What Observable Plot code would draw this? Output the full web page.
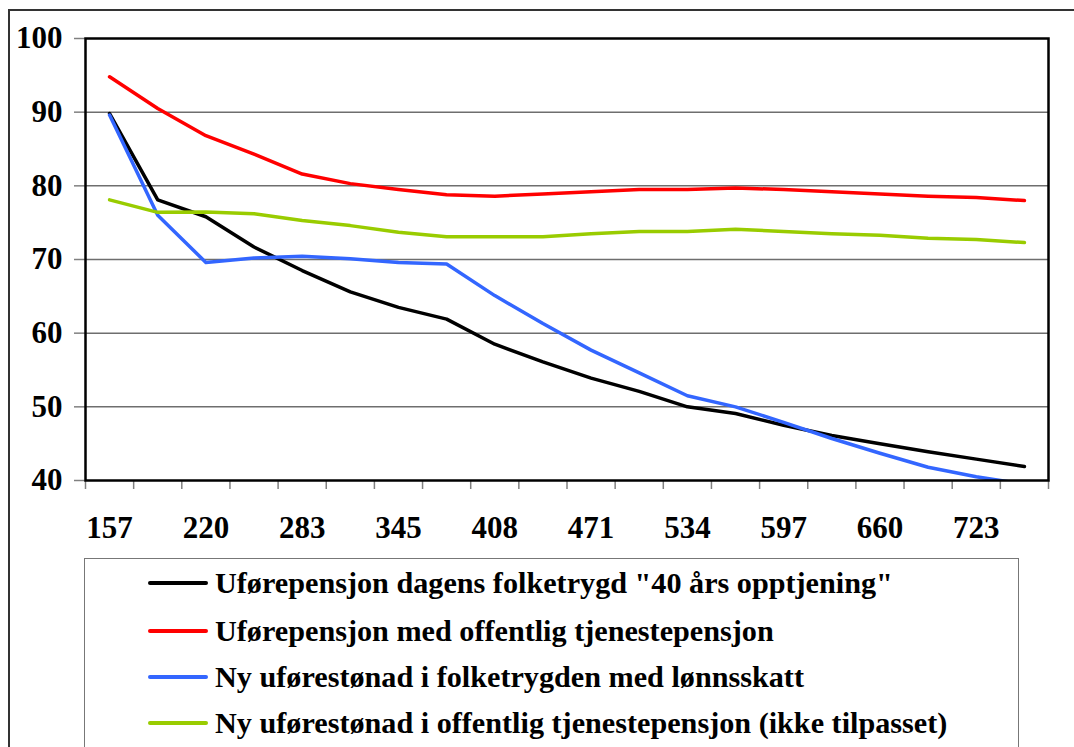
<!DOCTYPE html>
<html>
<head>
<meta charset="utf-8">
<script src="https://cdn.jsdelivr.net/npm/d3@7"></script>
<script src="https://cdn.jsdelivr.net/npm/@observablehq/plot@0.6"></script>
<style>
  html, body { margin: 0; padding: 0; background: #fff; width: 1074px; height: 747px; overflow: hidden; }
  #outer { position: absolute; left: 8px; top: 9px; width: 1200px; height: 1000px; border-left: 2px solid #333; border-top: 2px solid #333; }
  #chart { position: absolute; left: 0; top: 0; }
  #legend { position: absolute; left: 84px; top: 558px; width: 933px; height: 300px; border: 1px solid #777; background: #fff;
            font-family: "Liberation Serif", "Times New Roman", serif; font-weight: bold; font-size: 30.2px; color: #000; }
  .item { position: absolute; left: 63px; height: 40px; display: flex; align-items: center; white-space: nowrap; }
  .swatch { width: 60px; height: 4px; border-radius: 2px; margin-right: 7px; }
</style>
</head>
<body>
<div id="outer"></div>
<div id="chart"></div>
<div id="legend"></div>
<script>
const categories = ["157","188","220","251","283","314","345","377","408","440","471","502","534","565","597","628","660","691","723","754"];
const seriesNames = [
  "Uførepensjon dagens folketrygd \"40 års opptjening\"",
  "Uførepensjon med offentlig tjenestepensjon",
  "Ny uførestønad i folketrygden med lønnsskatt",
  "Ny uførestønad i offentlig tjenestepensjon (ikke tilpasset)"
];
const seriesColors = ["#000000", "#FF0000", "#3366FF", "#99CC00"];
const blackValues = [89.8, 78.1, 75.8, 71.7, 68.5, 65.6, 63.5, 61.9, 58.5, 56.1, 53.9, 52.1, 50.0, 49.1, 47.5, 46.1, 45.0, 43.9, 42.9, 41.9];
const redValues   = [94.8, 90.5, 86.8, 84.3, 81.6, 80.3, 79.5, 78.8, 78.6, 78.9, 79.2, 79.5, 79.5, 79.7, 79.5, 79.2, 78.9, 78.6, 78.4, 78.0];
const blueValues  = [89.6, 76.0, 69.6, 70.2, 70.45, 70.1, 69.6, 69.4, 65.1, 61.3, 57.7, 54.6, 51.5, 50.0, 47.9, 45.7, 43.7, 41.8, 40.5, 39.5];
const greenValues = [78.1, 76.4, 76.45, 76.2, 75.3, 74.6, 73.7, 73.1, 73.1, 73.1, 73.5, 73.8, 73.8, 74.1, 73.8, 73.5, 73.3, 72.9, 72.7, 72.3];
const yTicks = [40, 50, 60, 70, 80, 90, 100];

const allValues = [blackValues, redValues, blueValues, greenValues];
const rows = allValues.map((vals, s) => vals.map((v, i) => ({i, value: v, series: seriesNames[s]})));

const n = categories.length;
const bandEdges = d3.range(n + 1).map(k => k - 0.5);
const labelIdx = d3.range(0, n, 2);

const chart = Plot.plot({
  width: 1074,
  height: 558,
  marginLeft: 85,
  marginRight: 26,
  marginTop: 38,
  marginBottom: 78,
  style: {fontFamily: "'Liberation Serif', 'Times New Roman', serif", fontSize: "31px", fontWeight: "bold", color: "#000", background: "transparent", overflow: "visible"},
  x: {domain: [-0.5, n - 0.5]},
  y: {domain: [40, 100]},
  marks: [
    Plot.gridY(yTicks.filter(t => t > 40 && t < 100), {stroke: "#6e6e6e", strokeOpacity: 1, strokeWidth: 1.5}),
    Plot.axisY({ticks: yTicks, tickSize: 11, tickPadding: 12, stroke: "#808080", strokeWidth: 1.5, fill: "#000", label: null}),
    Plot.axisX({ticks: bandEdges, tickSize: 9, tickFormat: () => "", stroke: "#808080", strokeWidth: 1.5, label: null}),
    Plot.axisX({ticks: labelIdx, tickSize: 0, tickPadding: 35, tickFormat: i => categories[i], fill: "#000", label: null}),
    ...rows.map((r, s) => Plot.line(r, {x: "i", y: "value", stroke: seriesColors[s], strokeWidth: 3.5, clip: true, strokeLinejoin: "round"})),
    Plot.frame({stroke: "#000", strokeWidth: 2.5})
  ]
});
document.getElementById("chart").appendChild(chart);

const legend = document.getElementById("legend");
const rowCenters = [24, 72, 118, 164];
seriesNames.forEach((name, s) => {
  const item = document.createElement("div");
  item.className = "item";
  item.style.top = (rowCenters[s] - 20) + "px";
  const sw = document.createElement("span");
  sw.className = "swatch";
  sw.style.background = seriesColors[s];
  const tx = document.createElement("span");
  tx.textContent = name;
  item.appendChild(sw);
  item.appendChild(tx);
  legend.appendChild(item);
});
</script>
</body>
</html>
